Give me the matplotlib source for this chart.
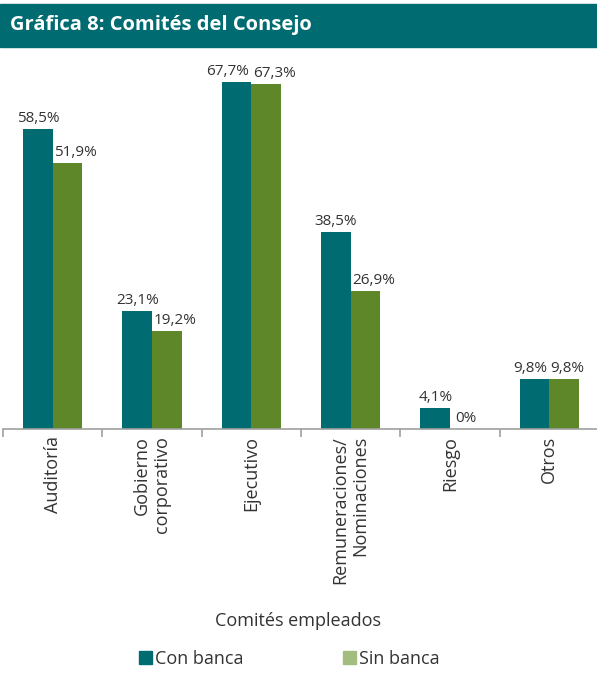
import matplotlib.pyplot as plt
import numpy as np
from matplotlib.patches import Rectangle, Patch

plt.rcParams['font.family'] = ['Open Sans', 'DejaVu Sans']

categorias = ['Auditoría', 'Gobierno\ncorporativo', 'Ejecutivo',
              'Remuneraciones/\nNominaciones', 'Riesgo', 'Otros']
con_banca = [58.5, 23.1, 67.7, 38.5, 4.1, 9.8]
sin_banca = [51.9, 19.2, 67.3, 26.9, 0.0, 9.8]
etiq_con = ['58,5%', '23,1%', '67,7%', '38,5%', '4,1%', '9,8%']
etiq_sin = ['51,9%', '19,2%', '67,3%', '26,9%', '0%', '9,8%']

teal = '#006b70'
verde = '#5e872a'
verde_claro = '#a3bd80'
gris_txt = '#333333'

W, H = 597, 676
fig = plt.figure(figsize=(W / 100, H / 100), dpi=100)

# franja del titulo
fig.patches.append(Rectangle((0, 1 - 46.5 / H), 1, 42.5 / H,
                             transform=fig.transFigure, color=teal, zorder=0))
fig.text(10 / W, 1 - 25 / H, 'Gráfica 8: Comités del Consejo', color='white',
         fontsize=14.5, fontweight='bold', va='center', ha='left')

ax = fig.add_axes([3 / W, 1 - 429 / H, 596 / W, 369 / H])
x = np.arange(len(categorias))
w = 0.298
ax.bar(x - w / 2, con_banca, w, color=teal)
ax.bar(x + w / 2, sin_banca, w, color=verde)

# etiquetas de valor: se apartan un poco cuando chocan con la vecina
for i in x:
    xc, ha, dx = x[i] - w / 2, 'center', 0
    if abs(con_banca[i] - sin_banca[i]) < 1:
        xc, ha, dx = x[i], 'right', -1.5
    ax.annotate(etiq_con[i], (xc, con_banca[i]), xytext=(dx, 2),
                textcoords='offset points', ha=ha, va='bottom',
                fontsize=11, color=gris_txt)
    xs, ha = x[i], 'left'
    if sin_banca[i] == 0:
        xs, ha = x[i] + w / 2, 'center'
    ax.annotate(etiq_sin[i], (xs, sin_banca[i]), xytext=(1, 2),
                textcoords='offset points', ha=ha, va='bottom',
                fontsize=11, color=gris_txt)

ax.set_xlim(-0.5, len(categorias) - 0.5)
ax.set_ylim(0, 72)
ax.set_yticks([])
for s in ['top', 'right', 'left']:
    ax.spines[s].set_visible(False)
ax.spines['bottom'].set_color('#a0a0a0')
ax.spines['bottom'].set_linewidth(1.2)

ax.set_xticks(x)
ax.set_xticklabels(categorias, rotation=90, fontsize=13, color=gris_txt,
                   va='top', ha='center', multialignment='right',
                   linespacing=1.15)
ax.tick_params(axis='x', which='major', length=0, pad=5)
ax.set_xticks(np.arange(-0.5, len(categorias)), minor=True)
ax.tick_params(axis='x', which='minor', length=6, width=1.2, color='#a0a0a0')

fig.text(298 / W, 1 - 621 / H, 'Comités empleados', fontsize=13,
         color=gris_txt, ha='center', va='center')

handles = [Patch(color=teal), Patch(color=verde_claro)]
leg = fig.legend(handles, ['Con banca', 'Sin banca'], loc='center',
                 bbox_to_anchor=(289 / W, 1 - 659 / H), ncol=2, frameon=False,
                 fontsize=13, handlelength=0.75, handleheight=0.75,
                 handletextpad=0.15, columnspacing=5.5)
for t in leg.get_texts():
    t.set_color(gris_txt)

fig.savefig('out.png', dpi=100)
